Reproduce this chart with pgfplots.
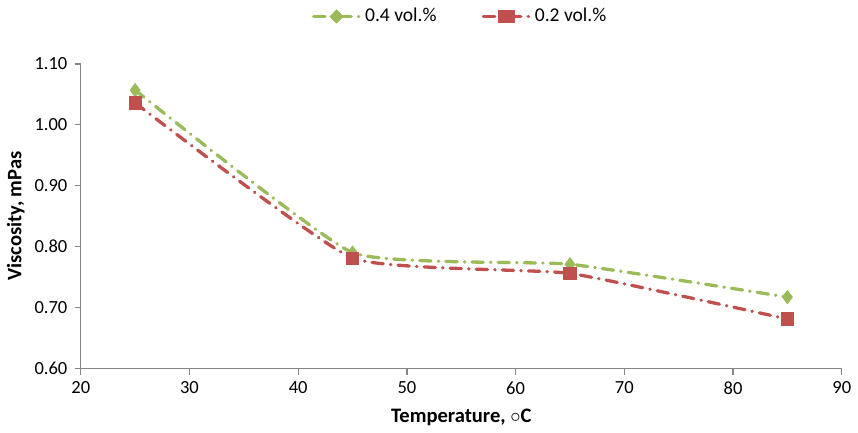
\documentclass[border=0pt]{standalone}
\usepackage{fontspec}
\setmainfont{Carlito}
\usepackage{pgfplots}
\pgfplotsset{compat=1.18}
\definecolor{exgreen}{HTML}{9BBB59}
\definecolor{exred}{HTML}{C0504D}
\definecolor{axgray}{HTML}{868686}

\begin{document}
\begin{tikzpicture}
\begin{axis}[
    scale only axis,
    width=370pt, height=148pt,
    xmin=20, xmax=90,
    ymin=0.6, ymax=1.1,
    xtick={20,30,...,90},
    ytick={0.6,0.7,...,1.1},
    axis lines=left,
    axis line style={-, axgray, line width=0.6pt},
    tick style={axgray, line width=0.6pt},
    tick align=outside,
    major tick length=3pt,
    ticklabel style={font=\fontsize{9}{10}\selectfont},
    /pgf/number format/assume math mode=true,
    yticklabel style={/pgf/number format/fixed, /pgf/number format/fixed zerofill, /pgf/number format/precision=2},
    xlabel={\textbf{Temperature, $\circ$C}},
    ylabel={\textbf{Viscosity, mPas}},
    label style={font=\fontsize{10}{11}\selectfont},
    xlabel style={yshift=0pt},
    ylabel style={yshift=-2pt},
    legend columns=2,
    legend style={draw=none, at={(0.5,1.1)}, anchor=south, font=\fontsize{9.5}{10}\selectfont,
        /tikz/every even column/.append style={column sep=20pt}},
    legend image post style={xscale=1.3},
]
\addplot[exgreen, line width=1.6pt, smooth, tension=0.25, line cap=round,
    dash pattern=on 5.5pt off 3.5pt on 0.2pt off 3.5pt,
    mark=diamond*, mark size=3.2pt, mark options={solid, fill=exgreen, draw=exgreen, line width=0.4pt}]
    coordinates {(25,1.057) (45,0.790) (65,0.771) (85,0.717)};
\addlegendentry{0.4 vol.\%}
\addplot[exred, line width=1.6pt, smooth, tension=0.25, line cap=round,
    dash pattern=on 5.5pt off 3.5pt on 0.2pt off 3.5pt,
    mark=square*, mark size=3pt, mark options={solid, fill=exred, draw=exred, line width=0.4pt}]
    coordinates {(25,1.036) (45,0.781) (65,0.756) (85,0.681)};
\addlegendentry{0.2 vol.\%}
\end{axis}
\end{tikzpicture}
\end{document}
